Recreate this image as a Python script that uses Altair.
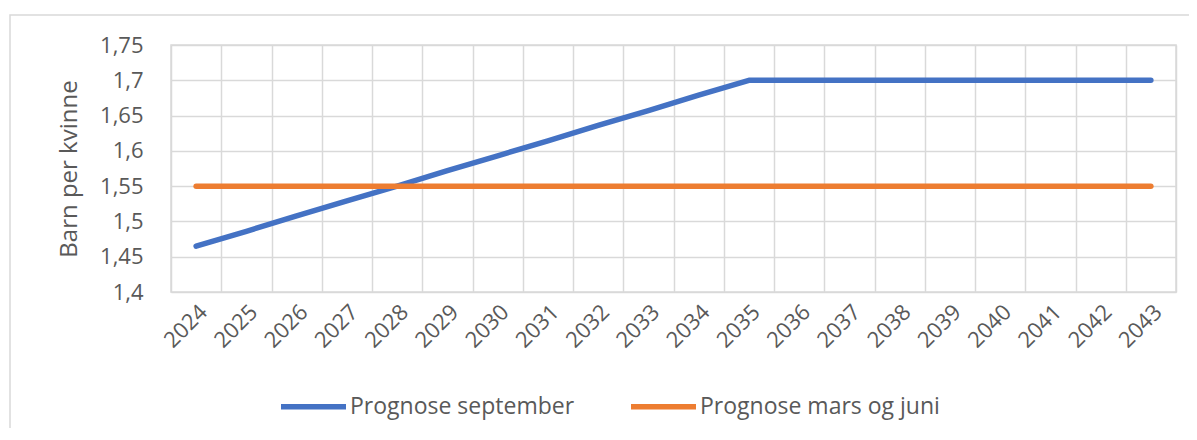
import altair as alt
import pandas as pd

years = ["2024", "2025", "2026", "2027", "2028", "2029", "2030", "2031", "2032", "2033",
         "2034", "2035", "2036", "2037", "2038", "2039", "2040", "2041", "2042", "2043"]
september = [1.465, 1.486, 1.508, 1.529, 1.550, 1.572, 1.593, 1.614, 1.636, 1.657,
             1.679, 1.700, 1.700, 1.700, 1.700, 1.700, 1.700, 1.700, 1.700, 1.700]
mars_juni = [1.55, 1.55, 1.55, 1.55, 1.55, 1.55, 1.55, 1.55, 1.55, 1.55,
             1.55, 1.55, 1.55, 1.55, 1.55, 1.55, 1.55, 1.55, 1.55, 1.55]
series_names = ["Prognose september", "Prognose mars og juni"]
colors = ["#4472C4", "#ED7D31"]
y_ticks = [1.4, 1.45, 1.5, 1.55, 1.6, 1.65, 1.7, 1.75]

df = pd.DataFrame({
    "year": years + years,
    "value": september + mars_juni,
    "series": [series_names[0]] * len(years) + [series_names[1]] * len(years),
})

FONT = "Open Sans"
TXT = "#595959"
GRID = "#d9d9d9"

lines = alt.Chart(df).mark_line(strokeWidth=5.5, strokeCap="round", strokeJoin="round").encode(
    x=alt.X(
        "year:N", sort=years, bandPosition=0.5,
        scale=alt.Scale(type="band", paddingInner=0, paddingOuter=0),
        axis=alt.Axis(title=None, labelAngle=-45, tickBand="extent", grid=True,
                      gridColor=GRID, gridWidth=1.5, ticks=False, domain=False,
                      labelPadding=9, labelFontSize=22, labelFont=FONT, labelColor=TXT),
    ),
    y=alt.Y(
        "value:Q",
        scale=alt.Scale(domain=[1.4, 1.75], nice=False, zero=False),
        axis=alt.Axis(title="Barn per kvinne", values=y_ticks,
                      labelExpr="replace(format(datum.value, '.2~f'), '.', ',')",
                      grid=True, gridColor=GRID, gridWidth=1.5, ticks=False, domain=False,
                      labelPadding=28, labelFontSize=22, labelFont=FONT, labelColor=TXT,
                      titleFont=FONT, titleFontSize=24, titleFontWeight="normal",
                      titleColor=TXT, titlePadding=18),
    ),
    color=alt.Color(
        "series:N", sort=series_names,
        scale=alt.Scale(domain=series_names, range=colors),
        legend=alt.Legend(title=None, orient="none", legendX=107, legendY=326,
                          direction="horizontal", symbolType="stroke",
                          symbolSize=4225, symbolStrokeWidth=5.5, columnPadding=45,
                          labelOffset=1, labelFont=FONT, labelFontSize=23,
                          labelColor=TXT, labelLimit=400),
    ),
)

frame = alt.Chart(pd.DataFrame({"a": [0]})).mark_rect(
    fillOpacity=0, stroke=GRID, strokeWidth=1.5
).encode(
    x=alt.value(-161), x2=alt.value(1100), y=alt.value(-30), y2=alt.value(500)
)

chart = alt.layer(frame, lines).properties(
    width=1005, height=247,
    autosize=alt.AutoSizeParams(type="none"),
    padding={"left": 163, "top": 37, "right": 13, "bottom": 136},
    background="white",
).configure_view(stroke=GRID, strokeWidth=1.5)

chart.save("out.html", embed_options={"renderer": "svg", "actions": False})
